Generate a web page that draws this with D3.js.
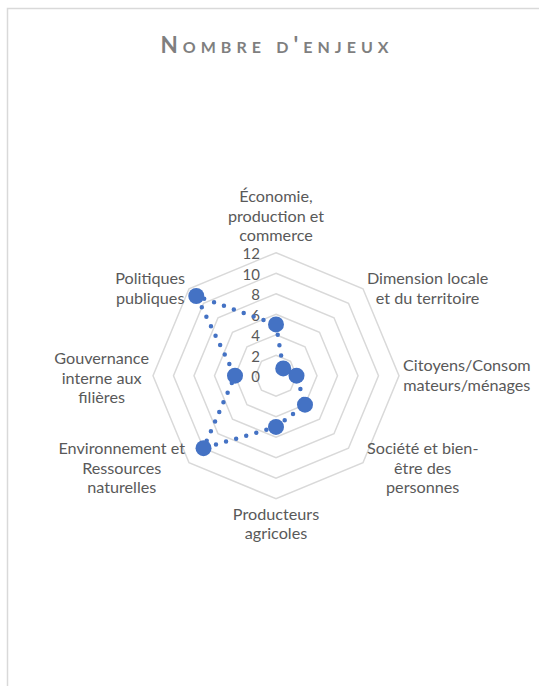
<!DOCTYPE html>
<html>
<head>
<meta charset="utf-8">
<script src="https://cdn.jsdelivr.net/npm/d3@7"></script>
<style>
  html, body { margin: 0; padding: 0; background: #fff; }
  svg { display: block; }
</style>
</head>
<body>
<svg id="chart" width="539" height="686"></svg>
<script>
// Chart content
const title = "Nombre d'enjeux";
const categories = [
  ["Économie,", "production et", "commerce"],
  ["Dimension locale", "et du territoire"],
  ["Citoyens/Consom", "mateurs/ménages"],
  ["Société et bien-", "être des", "personnes"],
  ["Producteurs", "agricoles"],
  ["Environnement et", "Ressources", "naturelles"],
  ["Gouvernance", "interne aux", "filières"],
  ["Politiques", "publiques"]
];
const values = [5, 1, 2, 4, 5, 10, 4, 11];
const tickValues = [0, 2, 4, 6, 8, 10, 12];

// Layout and style
const W = 539, H = 686;
const cx = 276, cy = 375.7, R = 123;
const FONT = "Lato, 'Open Sans', sans-serif";
const TEXT_COLOR = "#595959";
const GRID_COLOR = "#d9d9d9";
const SERIES_COLOR = "#4472c4";
const LABEL_SIZE = "16.2px";
const LINE_H = 19.7;

const svg = d3.select("#chart");

// Chart area frame
svg.append("rect")
  .attr("x", 7.5).attr("y", 8.5)
  .attr("width", W + 20).attr("height", H + 20)
  .attr("fill", "#fff")
  .attr("stroke", GRID_COLOR)
  .attr("stroke-width", 1.5);

// Title (small caps)
svg.append("text")
  .attr("x", 277).attr("y", 53)
  .attr("text-anchor", "middle")
  .style("font-family", FONT)
  .style("font-size", "22.5px")
  .style("font-weight", "bold")
  .style("font-variant", "small-caps")
  .style("letter-spacing", "5px")
  .attr("fill", "#7f7f7f")
  .text(title);

const r = d3.scaleLinear().domain([0, 12]).range([0, R]);
const angle = d3.scaleLinear().domain([0, categories.length]).range([0, 2 * Math.PI]);

const g = svg.append("g").attr("transform", `translate(${cx},${cy})`);

// Octagonal grid rings
const ringLine = d3.lineRadial()
  .angle((d, i) => angle(i))
  .radius(d => r(d))
  .curve(d3.curveLinearClosed);

g.selectAll("path.ring")
  .data(tickValues.filter(t => t > 0))
  .join("path")
  .attr("class", "ring")
  .attr("d", t => ringLine(categories.map(() => t)))
  .attr("fill", "none")
  .attr("stroke", GRID_COLOR)
  .attr("stroke-width", 1.5);

// Value tick labels along the top axis
g.selectAll("text.tick")
  .data(tickValues)
  .join("text")
  .attr("class", "tick")
  .attr("x", -16)
  .attr("y", t => -r(t) + 1.5)
  .attr("dy", "0.35em")
  .attr("text-anchor", "end")
  .style("font-family", FONT)
  .style("font-size", "15px")
  .attr("fill", TEXT_COLOR)
  .text(t => t);

// Series: dotted closed line
const seriesLine = d3.lineRadial()
  .angle((d, i) => angle(i))
  .radius(d => r(d))
  .curve(d3.curveLinearClosed);

g.append("path")
  .attr("d", seriesLine(values))
  .attr("fill", "none")
  .attr("stroke", SERIES_COLOR)
  .attr("stroke-width", 4.5)
  .attr("stroke-linecap", "round")
  .attr("stroke-dasharray", "0 10.5");

// Series markers
g.selectAll("circle.pt")
  .data(values)
  .join("circle")
  .attr("class", "pt")
  .attr("cx", (d, i) => r(d) * Math.sin(angle(i)))
  .attr("cy", (d, i) => -r(d) * Math.cos(angle(i)))
  .attr("r", 8)
  .attr("fill", SERIES_COLOR);

// Category labels placed around the outer ring
const labels = g.selectAll("g.cat")
  .data(categories)
  .join("g")
  .attr("class", "cat");

labels.each(function(lines, i) {
  const a = angle(i);
  const sx = Math.sin(a), cyDir = -Math.cos(a);
  const vx = r(12) * sx, vy = r(12) * cyDir;
  const grp = d3.select(this);
  const texts = grp.selectAll("text")
    .data(lines)
    .join("text")
    .attr("text-anchor", "middle")
    .style("font-family", FONT)
    .style("font-size", LABEL_SIZE)
    .attr("fill", TEXT_COLOR)
    .text(d => d);
  let maxW = 0;
  texts.each(function() { maxW = Math.max(maxW, this.getComputedTextLength()); });
  const n = lines.length;
  let x, yFirst;
  if (Math.abs(sx) < 0.1) {
    x = vx;
    if (cyDir < 0) {
      yFirst = vy - 11.5 - (n - 1) * LINE_H;
    } else {
      yFirst = vy + 21;
    }
  } else {
    x = vx + (sx > 0 ? 4 + maxW / 2 : -4 - maxW / 2);
    const shift = cyDir > 0.1 ? 6 : (Math.abs(cyDir) < 0.1 && n === 3 ? 3 : 0);
    const midY = vy + shift;
    yFirst = midY - ((n - 1) * LINE_H) / 2 + 5;
  }
  texts.attr("x", x).attr("y", (d, k) => yFirst + k * LINE_H);
});
</script>
</body>
</html>
